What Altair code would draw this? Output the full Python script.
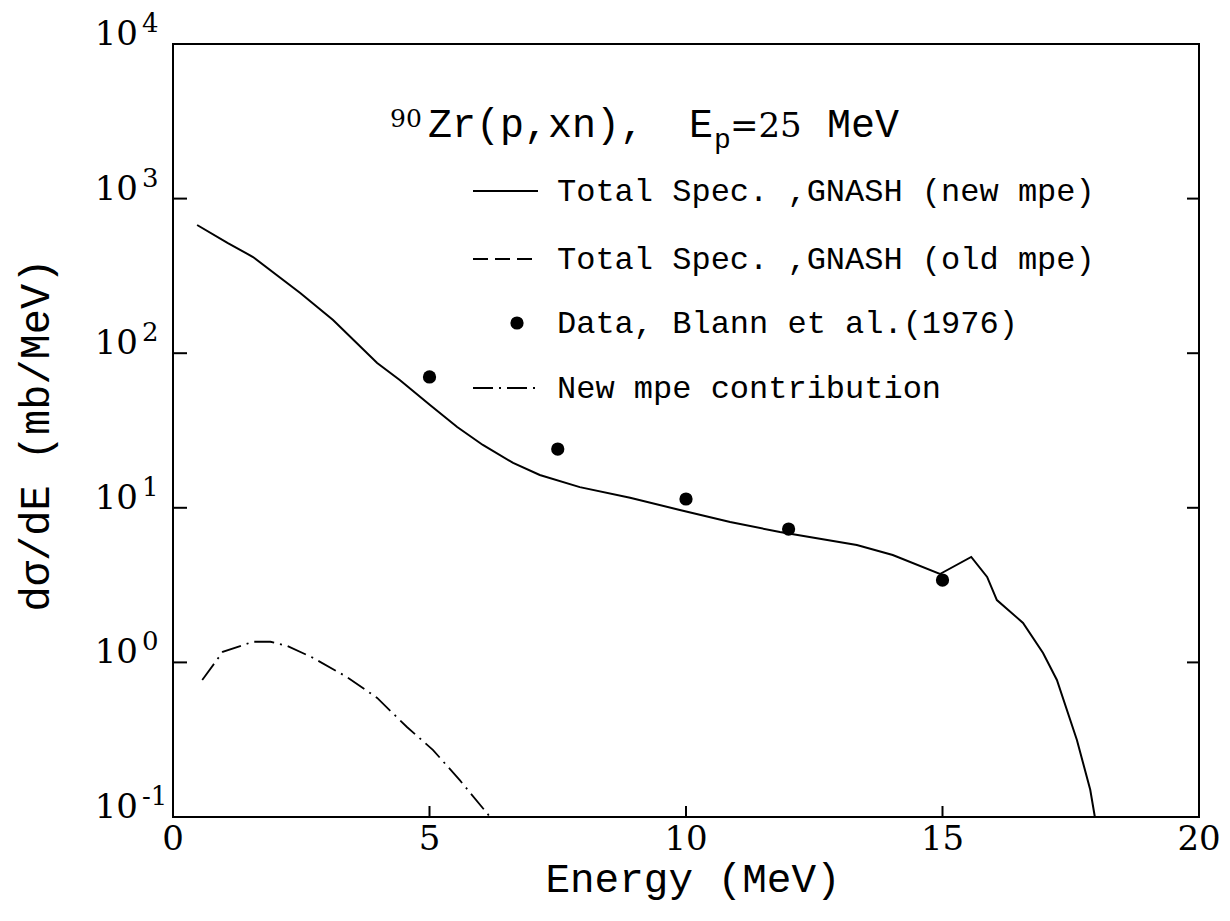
import altair as alt
import pandas as pd

# ---- data ----
new_x = [0.47, 1.07, 1.56, 2.48, 3.12, 3.98, 4.42, 5.01, 5.54, 6.04, 6.63, 7.15, 7.93,
         8.91, 9.88, 10.86, 11.83, 13.33, 14.03, 14.95, 15.56, 15.87, 16.06, 16.57,
         16.96, 17.23, 17.62, 17.88, 17.97]
new_y = [675, 516, 419, 245, 164, 86.5, 67.1, 46.2, 33.3, 25.5, 19.5, 16.3, 13.6,
         11.6, 9.68, 8.10, 6.97, 5.74, 4.95, 3.73, 4.81, 3.57, 2.53, 1.80,
         1.15, 0.77, 0.315, 0.150, 0.100]

mpe_x = [0.57, 0.97, 1.56, 1.90, 2.22, 2.73, 3.39, 3.98, 4.56, 5.07, 5.59, 6.12, 6.18]
mpe_y = [0.769, 1.17, 1.36, 1.36, 1.28, 1.07, 0.805, 0.589, 0.382, 0.271, 0.173, 0.106, 0.100]

data_x = [5.0, 7.5, 10.0, 12.0, 15.0]
data_y = [70.2, 24.0, 11.4, 7.29, 3.41]

y_ticks = [1e4, 1e3, 1e2, 1e1, 1e0, 1e-1]
y_exp = ["4", "3", "2", "1", "0", "-1"]
x_ticks = [0, 5, 10, 15, 20]
x_labels = ["0", "5", "10", "15", "20"]

legend_labels = ["Total Spec. ,GNASH (new mpe)",
                 "Total Spec. ,GNASH (old mpe)",
                 "Data, Blann et al.(1976)",
                 "New mpe contribution"]

W, H = 1026, 773
MONO = "Liberation Mono"
SERIF = "DejaVu Serif"

xs = alt.Scale(domain=[0, 20], nice=False, zero=False)
ys = alt.Scale(type="log", domain=[0.1, 1e4], nice=False)

df_new = pd.DataFrame({"x": new_x, "y": new_y})
df_mpe = pd.DataFrame({"x": mpe_x, "y": mpe_y})
df_dat = pd.DataFrame({"x": data_x, "y": data_y})
df_yt = pd.DataFrame({"v": y_ticks, "exp": y_exp, "base": ["10"] * len(y_ticks)})
df_xt = pd.DataFrame({"v": x_ticks, "lab": x_labels})

X = alt.X("x:Q", scale=xs, axis=None)
Y = alt.Y("y:Q", scale=ys, axis=None)

line_new = alt.Chart(df_new).mark_line(color="black", strokeWidth=2, clip=True).encode(x=X, y=Y)
line_mpe = alt.Chart(df_mpe).mark_line(color="black", strokeWidth=1.8, clip=True,
                                       strokeDash=[20, 6, 2, 6]).encode(x=X, y=Y)
pts = alt.Chart(df_dat).mark_circle(color="black", size=175, opacity=1).encode(x=X, y=Y)

# ticks (inward)
ytv = alt.Y("v:Q", scale=ys, axis=None)
xtv = alt.X("v:Q", scale=xs, axis=None)
lt = alt.Chart(df_yt).mark_rule(color="black", strokeWidth=2).encode(
    y=ytv, x=alt.value(0), x2=alt.value(14))
rt = alt.Chart(df_yt).mark_rule(color="black", strokeWidth=2).encode(
    y=ytv, x=alt.value(W - 12), x2=alt.value(W))
bt = alt.Chart(df_xt).mark_rule(color="black", strokeWidth=2).encode(
    x=xtv, y=alt.value(H - 11), y2=alt.value(H))

# tick labels
ylab = alt.Chart(df_yt).mark_text(font=SERIF, fontSize=34, align="right",
                                  baseline="alphabetic", dy=1, color="black").encode(
    y=ytv, x=alt.value(-35), text="base:N")
yexp = alt.Chart(df_yt).mark_text(font=SERIF, fontSize=26, align="left",
                                  baseline="alphabetic", dy=-12, color="black").encode(
    y=ytv, x=alt.value(-31), text="exp:N")
xlab = alt.Chart(df_xt).mark_text(font=SERIF, fontSize=34, align="center",
                                  baseline="alphabetic", color="black").encode(
    x=xtv, y=alt.value(H + 33), text="lab:N")

# axis titles
def txt(s, x, y, font=MONO, size=32, align="left", baseline="alphabetic", angle=0, weight="normal"):
    return alt.Chart(pd.DataFrame({"t": [s]})).mark_text(
        font=font, fontSize=size, align=align, baseline=baseline, angle=angle,
        fontWeight=weight, color="black").encode(
        x=alt.value(x), y=alt.value(y), text="t:N")

xtitle = txt("Energy (MeV)", 520, 848, size=41, align="center")
ytitle = txt("dσ/dE (mb/MeV)", -137, 391, size=42, align="center", baseline="middle", angle=270)

# plot title pieces
t1 = txt("90", 217, 83, font=SERIF, size=25)
t2 = txt("Zr(p,xn),", 255, 93, size=40)
t3 = txt("E", 516, 93, size=40)
t4 = txt("p", 541, 104, size=28)
t5 = txt("=25", 557, 93, font=SERIF, size=34)
t6 = txt("MeV", 654, 93, size=40)

# legend
rows = [147, 215, 279, 344]
lg_text = [txt(lbl, 384, r, size=32, baseline="middle") for lbl, r in zip(legend_labels, rows)]

def seg(r, dash=None):
    kw = dict(color="black", strokeWidth=2)
    if dash:
        kw["strokeDash"] = dash
    return alt.Chart(pd.DataFrame({"t": [0]})).mark_rule(**kw).encode(
        x=alt.value(300), x2=alt.value(365), y=alt.value(r))

lg1 = seg(rows[0])
lg2 = seg(rows[1], [15, 7])
lg4 = seg(rows[3], [20, 6, 2, 6])
lg3 = alt.Chart(pd.DataFrame({"t": [0]})).mark_circle(color="black", size=175, opacity=1).encode(
    x=alt.value(344), y=alt.value(rows[2]))

chart = alt.layer(
    line_new, line_mpe, pts, lt, rt, bt, ylab, yexp, xlab, xtitle, ytitle,
    t1, t2, t3, t4, t5, t6, lg1, lg2, lg3, lg4, *lg_text
).properties(
    width=W, height=H,
    autosize=alt.AutoSizeParams(type="none"),
    padding={"left": 165, "top": 36, "right": 23, "bottom": 91},
    background="white",
).configure_view(stroke="black", strokeWidth=2)

chart.save("out.html", embed_options={"renderer": "svg", "actions": False})
